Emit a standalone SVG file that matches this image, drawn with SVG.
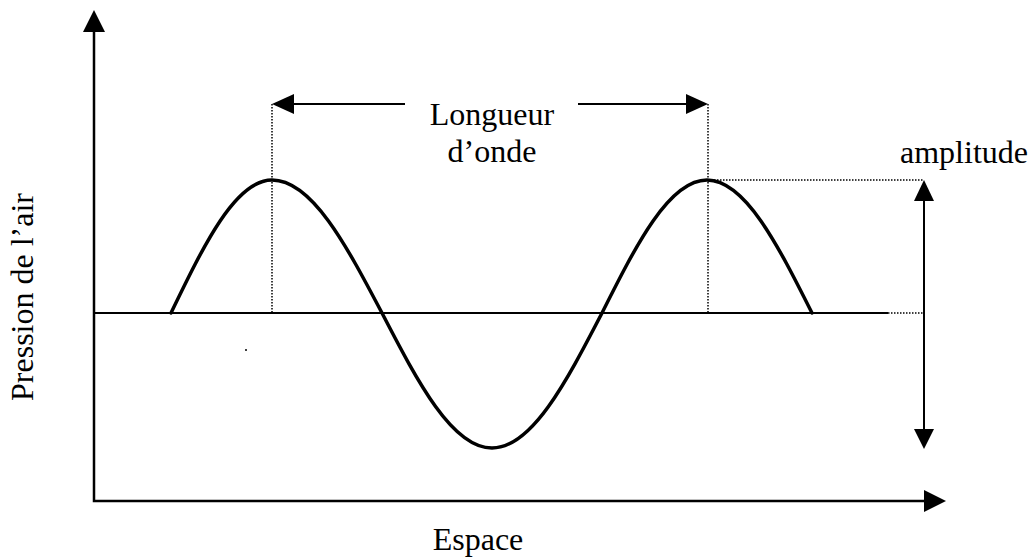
<svg xmlns="http://www.w3.org/2000/svg" width="1029" height="558" viewBox="0 0 1029 558">
<style>
  .lbl { font-family: "Liberation Serif", "Times New Roman", serif; font-size: 32px; fill: #000; }
  .axis { stroke: #000; stroke-width: 2.5; fill: none; }
  .thin { stroke: #000; stroke-width: 2; fill: none; }
  .dot { stroke: #000; stroke-width: 1.5; stroke-dasharray: 1.5 1.5; fill: none; }
  .wave { stroke: #000; stroke-width: 3.5; fill: none; stroke-linecap: round; }
  .head { fill: #000; stroke: none; }
</style>
<rect width="1029" height="558" fill="#fff"/>
<g id="connectors">
  <!-- axes -->
  <path class="axis" d="M94,32 V501 H924"/>
  <polygon class="head" points="94,10 83,32 105,32"/>
  <polygon class="head" points="946,501 924,490 924,512"/>
  <!-- baseline -->
  <line class="thin" x1="94" y1="313" x2="888" y2="313"/>
  <line class="dot" x1="888" y1="313" x2="924" y2="313"/>
  <!-- dotted guides -->
  <line class="dot" x1="272" y1="104" x2="272" y2="313"/>
  <line class="dot" x1="708" y1="104" x2="708" y2="313"/>
  <line class="dot" x1="708" y1="180" x2="924" y2="180"/>
  <!-- wavelength arrows -->
  <line class="thin" x1="292" y1="104" x2="405" y2="104"/>
  <polygon class="head" points="272,104 294,94 294,114"/>
  <line class="thin" x1="578" y1="104" x2="688" y2="104"/>
  <polygon class="head" points="708,104 686,94 686,114"/>
  <!-- amplitude arrow -->
  <line class="thin" x1="924" y1="199" x2="924" y2="431"/>
  <polygon class="head" points="924,180 914,201 934,201"/>
  <polygon class="head" points="924,449 914,429 934,429"/>
</g>
<g id="wave">
  <path class="wave" d="M171,313 C203.9,244.9 235.4,180 272,180 C311.8,180 346.1,244.9 382,313 C417.9,382.2 452.2,448 492,448 C531.8,448 566.1,382.2 602,313 C636.2,244.9 669,180 707,180 C745,180 777.8,244.9 812,313"/>
  <circle cx="246" cy="350" r="1" fill="#000"/>
</g>
<g id="label-longueur">
  <text class="lbl" x="492" y="125" text-anchor="middle">Longueur</text>
  <text class="lbl" x="492" y="162" text-anchor="middle">d’onde</text>
</g>
<g id="label-amplitude">
  <text class="lbl" x="900" y="163">amplitude</text>
</g>
<g id="label-espace">
  <text class="lbl" x="478" y="550" text-anchor="middle">Espace</text>
</g>
<g id="label-pression">
  <text class="lbl" transform="translate(33,297) rotate(-90)" text-anchor="middle">Pression de l’air</text>
</g>
</svg>
